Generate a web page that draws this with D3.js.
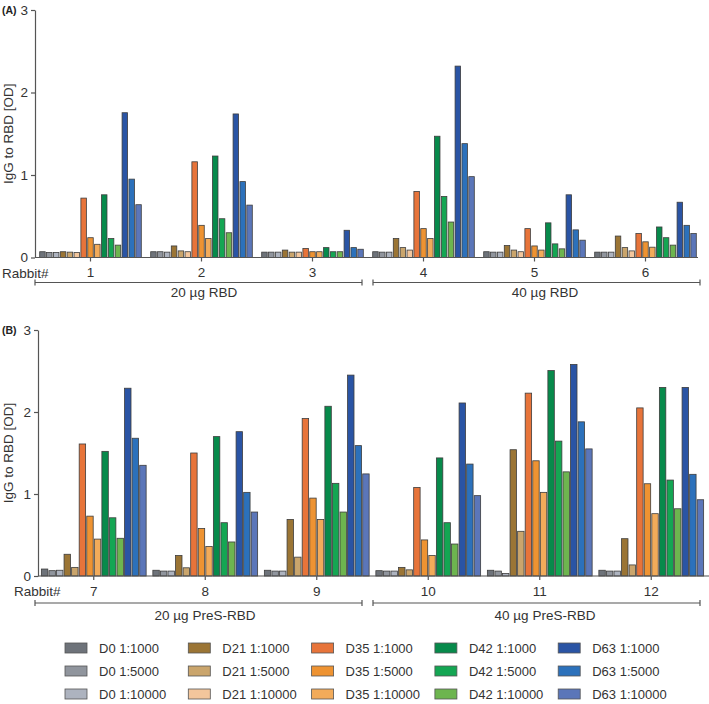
<!DOCTYPE html>
<html>
<head>
<meta charset="utf-8">
<script src="https://cdn.jsdelivr.net/npm/d3@7"></script>
<style>
  body { margin: 0; background: #fff; }
  svg { font-family: "Liberation Sans", Arial, sans-serif; }
  .axis path, .axis line { stroke: #555; stroke-width: 1.2; }
  .axis text { fill: #333; font-size: 13.5px; }
</style>
</head>
<body>
<svg id="chart" width="709" height="704"></svg>
<script>
// series names, one per day x dilution
var series = [
  "D0 1:1000", "D0 1:5000", "D0 1:10000",
  "D21 1:1000", "D21 1:5000", "D21 1:10000",
  "D35 1:1000", "D35 1:5000", "D35 1:10000",
  "D42 1:1000", "D42 1:5000", "D42 1:10000",
  "D63 1:1000", "D63 1:5000", "D63 1:10000"
];
var colors = [
  "#6e737a", "#90959d", "#adb3bf",
  "#9b7535", "#caa56c", "#f3c69c",
  "#e7743a", "#ee9332", "#f2ab5a",
  "#078a4b", "#14a653", "#6db54f",
  "#2a54a4", "#2c71bb", "#5b76b9"
];

var rabbitsA = ["1", "2", "3", "4", "5", "6"];
var rabbitsB = ["7", "8", "9", "10", "11", "12"];

// panel A: all 15 series
var valuesA = [
  [0.07, 0.06, 0.06, 0.07, 0.065, 0.06, 0.72, 0.24, 0.16, 0.76, 0.23, 0.15, 1.755, 0.95, 0.64],
  [0.07, 0.07, 0.065, 0.14, 0.08, 0.07, 1.16, 0.39, 0.23, 1.23, 0.47, 0.30, 1.74, 0.92, 0.635],
  [0.065, 0.065, 0.065, 0.09, 0.065, 0.065, 0.11, 0.07, 0.07, 0.12, 0.07, 0.07, 0.33, 0.12, 0.10],
  [0.07, 0.065, 0.065, 0.23, 0.12, 0.09, 0.80, 0.35, 0.23, 1.47, 0.74, 0.43, 2.32, 1.38, 0.98],
  [0.07, 0.065, 0.065, 0.145, 0.09, 0.07, 0.35, 0.14, 0.09, 0.42, 0.165, 0.105, 0.76, 0.335, 0.21],
  [0.065, 0.065, 0.065, 0.26, 0.12, 0.08, 0.29, 0.19, 0.125, 0.37, 0.24, 0.15, 0.67, 0.39, 0.29]
];

// panel B: no D21 1:10000 bars
var seriesB = series.filter(function(s) { return s !== "D21 1:10000"; });
var valuesB = [
  [0.085, 0.065, 0.07, 0.265, 0.105, 1.61, 0.73, 0.45, 1.52, 0.71, 0.46, 2.29, 1.68, 1.35],
  [0.07, 0.06, 0.06, 0.25, 0.10, 1.50, 0.58, 0.36, 1.70, 0.65, 0.415, 1.76, 1.02, 0.78],
  [0.07, 0.06, 0.06, 0.69, 0.23, 1.92, 0.95, 0.69, 2.07, 1.13, 0.78, 2.45, 1.59, 1.245],
  [0.065, 0.06, 0.06, 0.105, 0.075, 1.08, 0.44, 0.25, 1.44, 0.65, 0.39, 2.11, 1.365, 0.98],
  [0.07, 0.06, 0.03, 1.54, 0.545, 2.23, 1.405, 1.02, 2.505, 1.645, 1.27, 2.58, 1.88, 1.55],
  [0.07, 0.06, 0.06, 0.455, 0.135, 2.05, 1.125, 0.76, 2.30, 1.17, 0.82, 2.30, 1.24, 0.93]
];

var yTicks = [0, 1, 2, 3];
var groupsA = ["20 µg RBD", "40 µg RBD"];
var groupsB = ["20 µg PreS-RBD", "40 µg PreS-RBD"];

var svg = d3.select("#chart");
var color = d3.scaleOrdinal().domain(series).range(colors);

function drawPanel(o) {
  var g = svg.append("g");
  var y = d3.scaleLinear().domain([0, 3]).range([o.y0, o.y3]);
  var x0 = d3.scaleBand().domain(o.rabbits).range([o.axisX + o.shift, o.xEnd]).paddingInner(o.pad).paddingOuter(o.pad / 2);
  var x1 = d3.scaleBand().domain(o.series).range([0, x0.bandwidth()]).padding(o.barPad);

  g.selectAll("g.rabbit")
    .data(o.values)
    .enter().append("g")
    .attr("transform", function(d, i) { return "translate(" + x0(o.rabbits[i]) + ",0)"; })
    .selectAll("rect")
    .data(function(d) { return d.map(function(v, j) { return { key: o.series[j], v: v }; }); })
    .enter().append("rect")
    .attr("x", function(d) { return x1(d.key); })
    .attr("width", x1.bandwidth())
    .attr("y", function(d) { return y(d.v); })
    .attr("height", function(d) { return y(0) - y(d.v); })
    .attr("fill", function(d) { return color(d.key); })
    .attr("stroke", "#3d3d3d")
    .attr("stroke-width", 0.8);

  g.append("g").attr("class", "axis")
    .attr("transform", "translate(" + o.axisX + ",0)")
    .call(d3.axisLeft(y).tickValues(yTicks).tickFormat(d3.format("d")).tickSize(4).tickSizeOuter(0));

  var xa = g.append("g").attr("class", "axis")
    .attr("transform", "translate(0," + o.y0 + ")")
    .call(d3.axisBottom(x0).tickSize(4).tickSizeOuter(0).tickPadding(6));
  xa.select(".domain").attr("d", "M" + o.axisX + ",0H" + o.lineEnd);

  g.append("text").attr("x", o.rabbitX).attr("y", o.y0 + 20)
    .attr("font-size", 13.5).attr("fill", "#333").text("Rabbit#");

  g.append("text")
    .attr("transform", "translate(13," + (o.y0 + o.y3) / 2 + ") rotate(-90)")
    .attr("text-anchor", "middle").attr("font-size", 13.5).attr("fill", "#333")
    .text("IgG to RBD [OD]");

  g.append("text").attr("x", 2).attr("y", o.y3 + 4)
    .attr("font-size", 10.5).attr("font-weight", "bold").attr("fill", "#222")
    .text(o.tag);

  var spans = [[35, 362], [373, 700]];
  spans.forEach(function(s, i) {
    var by = o.y0 + o.brY;
    g.append("path")
      .attr("d", "M" + s[0] + "," + (by - 3) + "V" + (by + 3) + "M" + s[0] + "," + by + "H" + s[1] +
        "M" + s[1] + "," + (by - 3) + "V" + (by + 3))
      .attr("stroke", "#555").attr("stroke-width", 1.2).attr("fill", "none");
    g.append("text").attr("x", o.labX[i]).attr("y", o.y0 + o.labY)
      .attr("text-anchor", "middle").attr("font-size", 13.5).attr("fill", "#333")
      .text(o.groups[i]);
  });
}

drawPanel({
  tag: "(A)", rabbits: rabbitsA, series: series, values: valuesA, groups: groupsA,
  y0: 257.5, y3: 10, axisX: 35, shift: 0, xEnd: 701, lineEnd: 698,
  pad: 0.06, barPad: 0.2, rabbitX: 2, brY: 25, labY: 39.5, labX: [204, 545]
});

drawPanel({
  tag: "(B)", rabbits: rabbitsB, series: seriesB, values: valuesB, groups: groupsB,
  y0: 576, y3: 330, axisX: 38, shift: 0, xEnd: 707, lineEnd: 709,
  pad: 0.04, barPad: 0.15, rabbitX: 14, brY: 27, labY: 44, labX: [205, 545]
});

// legend: columns are days, rows are dilutions
var leg = svg.append("g").selectAll("g")
  .data(series)
  .enter().append("g")
  .attr("transform", function(d, i) {
    var col = Math.floor(i / 3), row = i % 3;
    return "translate(" + (65 + col * 123.3) + "," + (648 + row * 23) + ")";
  });
leg.append("rect")
  .attr("x", 0).attr("y", -5).attr("width", 22).attr("height", 10)
  .attr("fill", function(d) { return color(d); })
  .attr("stroke", "#555").attr("stroke-width", 0.8);
leg.append("text")
  .attr("x", 34).attr("y", 4.5)
  .attr("font-size", 13).attr("fill", "#333")
  .text(function(d) { return d; });
</script>
</body>
</html>
